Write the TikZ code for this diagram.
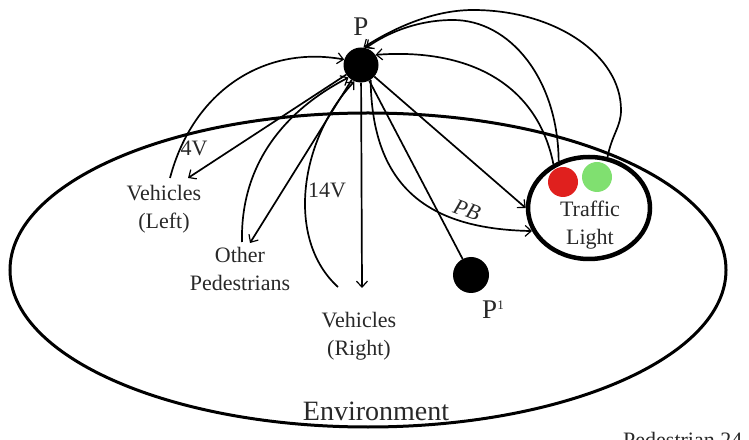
\documentclass[tikz,border=0pt]{standalone}
\usepackage{fontspec}
\setmainfont{Liberation Serif}
\usetikzlibrary{arrows.meta,shapes.geometric}
\definecolor{tlred}{RGB}{224,32,30}
\definecolor{tlgreen}{RGB}{128,224,112}
\definecolor{txt}{RGB}{40,40,40}
\tikzset{
  conn/.style={line width=1.7pt,-{Straight Barb[length=6pt,width=11pt,line width=1.2pt]}},
  plainconn/.style={line width=1.7pt},
  lbl/.style={font=\fontsize{22}{28}\selectfont,align=center,text=txt,inner sep=0pt},
  biglbl/.style={font=\fontsize{27}{30}\selectfont,text=txt,inner sep=0pt},
  dot/.style={circle,fill=black,inner sep=0pt,minimum size=35pt},
  lamp/.style={circle,inner sep=0pt,minimum size=30pt},
}
\begin{document}
\begin{tikzpicture}[x=1pt,y=1pt]
\useasboundingbox (0,0) rectangle (749,439);
\clip (0,0) rectangle (749,439);
% environment
\draw[line width=3pt] (368,169) ellipse [x radius=358, y radius=157];
\node[lbl,font=\fontsize{28}{30}\selectfont] (env) at (376,28) {Environment};
% nodes
\node[dot] (P) at (361,374) {};
\node[biglbl] (plabel) at (361,412) {P};
\node[dot,minimum size=36pt] (P1) at (471,164) {};
\node[biglbl] (p1label) at (493,129) {P\raisebox{9pt}{\fontsize{13}{13}\selectfont 1}};
\node[draw,ellipse,line width=4.5pt,minimum width=122pt,minimum height=102pt,inner sep=0pt] (TL) at (589,231) {};
\node[lamp,fill=tlred] (red) at (563,257) {};
\node[lamp,fill=tlgreen] (green) at (597,262) {};
\node[lbl] (tltext) at (590,214) {Traffic\\Light};
\node[lbl] (vl) at (164,230) {Vehicles\\(Left)};
\node[lbl] (op) at (240,170) {Other\\Pedestrians};
\node[lbl] (vr) at (359,103) {Vehicles\\(Right)};
\node[lbl] (l4v) at (194,291) {4V};
\node[lbl] (l14v) at (327,249) {14V};
\node[lbl,font=\fontsize{22}{28}\selectfont\itshape,rotate=-20] (pb) at (467,229) {PB};
\node[lbl,anchor=north west] (ped) at (623,7) {Pedestrian 24};
% connector ends
\coordinate (vlTip) at (188,261);
\coordinate (opTip) at (250,196);
\coordinate (vrTip) at (362,151);
\coordinate (vlStart) at (170,261);
\coordinate (opStart) at (242,197);
\coordinate (vrStart) at (338,152);
% connectors on the left
\draw[conn] (vlStart) .. controls (193,348) and (264,394) .. (P.162);
\draw[conn] (opStart) .. controls (240,285) and (297,335) .. (P.225);
\draw[conn] (vrStart) .. controls (285,200) and (300,300) .. (P.248);
\draw[conn] (P) -- (vlTip);
\draw[conn] (P) -- (opTip);
\draw[conn] (P) -- (vrTip);
% connectors on the right
\draw[conn] (P) -- (TL.west);
\draw[conn] (P.303) .. controls (372,250) and (430,210) .. (TL.202);
\draw[plainconn] (P) -- (P1);
\draw[conn] (TL.70) .. controls (612,305) and (621,312) .. (621,329)
  .. controls (621,384) and (555,429) .. (473,429)
  .. controls (428,429) and (386,406) .. (P.82);
\draw[conn] (TL.123) .. controls (558,360) and (510,419) .. (453,419)
  .. controls (420,419) and (390,408) .. (P.74);
\draw[conn] (TL.129) .. controls (537,356) and (468,391) .. (P.35);
\end{tikzpicture}
\end{document}
